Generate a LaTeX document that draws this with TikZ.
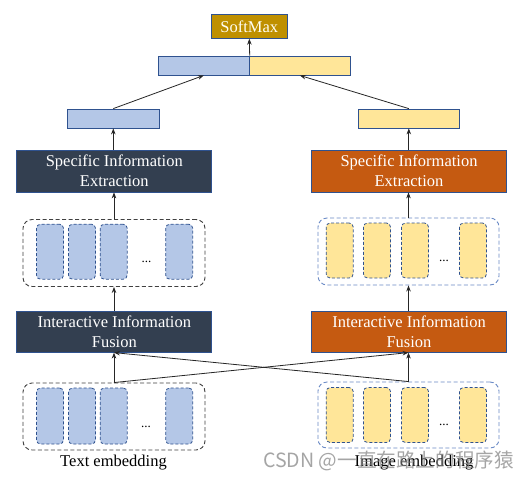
\documentclass[tikz,border=0pt]{standalone}
\usepackage{fontspec}
\setmainfont{Liberation Serif}
\newfontfamily\cjk{Noto Sans CJK SC}
\usetikzlibrary{arrows.meta}
\definecolor{bfill}{HTML}{B4C7E7}
\definecolor{yfill}{HTML}{FFE699}
\definecolor{navy}{HTML}{333F50}
\definecolor{orng}{HTML}{C55A11}
\definecolor{gold}{HTML}{BF9000}
\definecolor{edge}{HTML}{2F528F}
\definecolor{ledge}{HTML}{6A8AC6}
\definecolor{dedge}{HTML}{404040}
\definecolor{arrc}{HTML}{262626}
\begin{document}
\begin{tikzpicture}[x=1pt,y=-1pt,
  font=\fontsize{16.5}{20.5}\selectfont,
  bigbox/.style={draw=edge, line width=0.8pt, inner sep=0pt, align=center,
    text=white, minimum width=195pt, minimum height=42pt},
  bar/.style={draw=edge, line width=0.8pt, inner sep=0pt, minimum height=19pt},
  cell/.style={draw=edge, dash pattern=on 3pt off 2pt, line width=0.8pt,
    rounded corners=4pt, minimum width=27pt, minimum height=55pt, inner sep=0pt},
  grp/.style={draw=#1, dash pattern=on 4pt off 2.5pt, line width=0.9pt,
    rounded corners=9pt, minimum width=182pt, minimum height=67pt, inner sep=0pt},
  dotsnode/.style={anchor=base, font=\fontsize{13}{15}\selectfont, inner sep=0pt},
  lbl/.style={anchor=base, inner sep=0pt},
  arr/.style={draw=arrc, line width=0.8pt, -{Stealth[length=6pt,width=4.5pt]}}
]
\useasboundingbox[fill=white] (0,0) rectangle (530,480);

% top
\node[draw=edge, line width=0.8pt, fill=gold, text=white!95!yellow, inner sep=0pt,
  minimum width=76pt, minimum height=24pt] (sm) at (249.3,26.3) {SoftMax};
\node[bar, fill=bfill, minimum width=91pt] (catL) at (203.8,65.5) {};
\node[bar, fill=yfill, minimum width=101pt] (catR) at (299.8,65.5) {};
\node[bar, fill=bfill, minimum width=92pt] (sl) at (113.3,118.5) {};
\node[bar, fill=yfill, minimum width=101pt] (sr) at (408.8,118.5) {};

% big boxes
\node[bigbox, fill=navy] (lsie) at (114.3,171) {Specific Information\\Extraction};
\node[bigbox, fill=orng] (rsie) at (409,171) {Specific Information\\Extraction};
\node[bigbox, fill=navy, minimum height=41pt] (liif) at (114.3,331.7) {Interactive Information\\Fusion};
\node[bigbox, fill=orng, minimum height=41pt] (riif) at (409,331.7) {Interactive Information\\Fusion};

% groups upper
\node[grp=dedge] (lg2) at (114,253) {};
\node[grp=ledge, minimum width=181pt] (rg2) at (408.5,251.5) {};
\node[cell, fill=bfill] (l2a) at (50,251.7) {};
\node[cell, fill=bfill] (l2b) at (82,251.7) {};
\node[cell, fill=bfill] (l2c) at (113.7,251.7) {};
\node[cell, fill=bfill] (l2d) at (179.2,251.7) {};
\node[dotsnode] (l2dots) at (146.5,262) {...};
\node[cell, fill=yfill] (r2a) at (339.7,250.5) {};
\node[cell, fill=yfill] (r2b) at (377,250.5) {};
\node[cell, fill=yfill] (r2c) at (415,250.5) {};
\node[cell, fill=yfill] (r2d) at (473,250.5) {};
\node[dotsnode] (r2dots) at (444,261) {...};

% groups lower
\node[grp=dedge] (lg1) at (114,416.5) {};
\node[grp=ledge, minimum width=181pt, minimum height=66pt] (rg1) at (408.5,415) {};
\node[cell, fill=bfill, minimum height=56pt] (l1a) at (50,416) {};
\node[cell, fill=bfill, minimum height=56pt] (l1b) at (82,416) {};
\node[cell, fill=bfill, minimum height=56pt] (l1c) at (113.7,416) {};
\node[cell, fill=bfill, minimum height=56pt] (l1d) at (179.2,416) {};
\node[dotsnode] (l1dots) at (146,427) {...};
\node[cell, fill=yfill] (r1a) at (339.7,415) {};
\node[cell, fill=yfill] (r1b) at (377,415) {};
\node[cell, fill=yfill] (r1c) at (415,415) {};
\node[cell, fill=yfill] (r1d) at (473,415) {};
\node[dotsnode] (r1dots) at (444,425.5) {...};

% labels
\node[lbl] (tlab) at (113.5,466) {Text embedding};
\node[lbl] (ilab) at (414,466) {Image embedding};

% arrows
\draw[arr] (catL.north east) -- (sm.south);
\draw[arr] (sl.north) -- (catL.south);
\draw[arr] (sr.north) -- (catR.south);
\draw[arr] (lsie.north -| sl.north) -- (sl.south);
\draw[arr] (rsie.north -| sr.north) -- (sr.south);
\draw[arr] (lg2.north) -- (lg2.north |- lsie.south);
\draw[arr] (rg2.north) -- (rg2.north |- rsie.south);
\draw[arr] (liif.north -| lg2.north) -- (lg2.south);
\draw[arr] (riif.north -| rg2.north) -- (rg2.south);
\draw[arr] (lg1.north) -- (lg1.north |- liif.south);
\draw[arr] (rg1.north) -- (rg1.north |- riif.south);
\draw[arr] (lg1.north) -- (rg1.north |- riif.south);
\draw[arr] (rg1.north) -- (lg1.north |- liif.south);

% watermark
\node[anchor=base west, inner sep=0pt, text=gray, opacity=0.7,
  font=\cjk\fontsize{19.6}{22}\selectfont] (wm) at (263,467) {CSDN @一直在路上的程序猿};
\end{tikzpicture}
\end{document}
